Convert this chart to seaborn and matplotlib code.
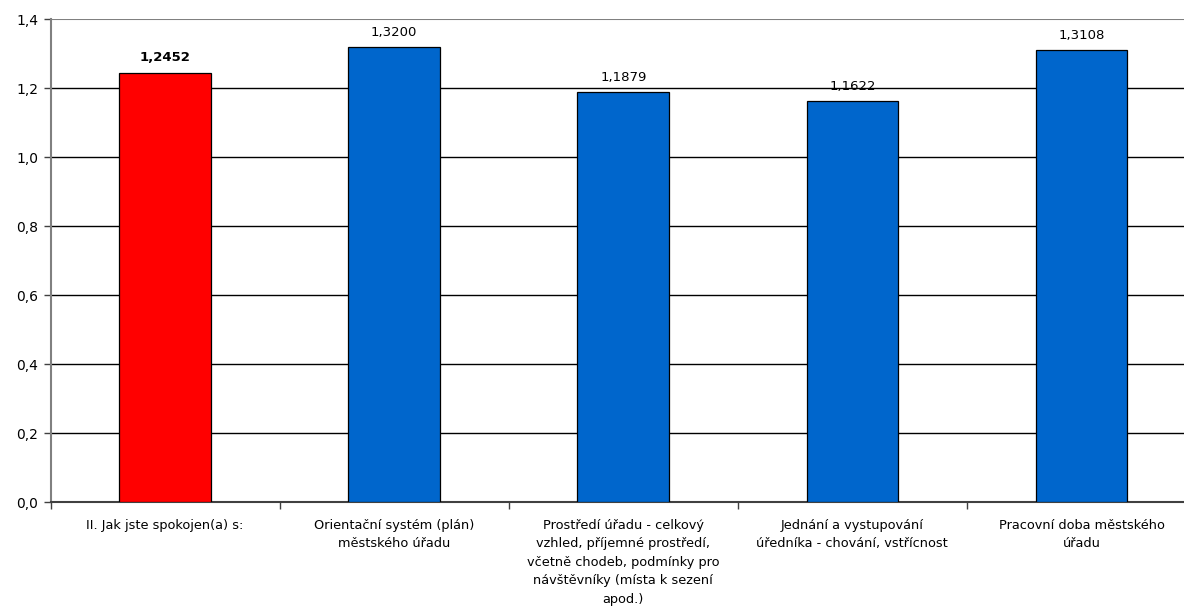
import matplotlib
matplotlib.use("Agg")
import matplotlib.pyplot as plt
import seaborn as sns
import pandas as pd

categories = [
    "II. Jak jste spokojen(a) s:",
    "Orientační systém (plán)\nměstského úřadu",
    "Prostředí úřadu - celkový\nvzhled, příjemné prostředí,\nvčetně chodeb, podmínky pro\nnávštěvníky (místa k sezení\napod.)",
    "Jednání a vystupování\núředníka - chování, vstřícnost",
    "Pracovní doba městského\núřadu",
]
values = [1.2452, 1.3200, 1.1879, 1.1622, 1.3108]
bar_colors = ["#FF0000", "#0066CC", "#0066CC", "#0066CC", "#0066CC"]
yticks = [0.0, 0.2, 0.4, 0.6, 0.8, 1.0, 1.2, 1.4]

sns.set_style("white")
plt.rcParams["font.family"] = ["DejaVu Sans"]
plt.rcParams["text.color"] = "black"
plt.rcParams["xtick.color"] = "black"
plt.rcParams["ytick.color"] = "black"

df = pd.DataFrame({"cat": categories, "val": values})

W, H = 1184, 613
fig = plt.figure(figsize=(W / 100, H / 100), dpi=100)
left, right, top, bottom = 50.5, 1196, 19.3, 502
ax = fig.add_axes([left / W, 1 - bottom / H, (right - left) / W, (bottom - top) / H])

sns.barplot(data=df, x="cat", y="val", hue="cat", palette=bar_colors,
            saturation=1, width=0.4, edgecolor="black", linewidth=0.9,
            legend=False, ax=ax, zorder=3)

ax.set_xlim(-0.5, len(categories) - 0.5)
ax.set_ylim(0, 1.4)
ax.set_yticks(yticks)
ax.set_yticklabels([f"{t:.1f}".replace(".", ",") for t in yticks], fontsize=10)
for t in yticks[1:-1]:
    ax.axhline(t, color="black", linewidth=1.0, zorder=1)
ax.axhline(1.4, color="#808080", linewidth=1.5, zorder=1)

ax.set_xticks([i - 0.5 for i in range(len(categories) + 1)])
ax.set_xticklabels([])
ax.tick_params(axis="x", direction="out", length=5, width=1, color="#404040", bottom=True)
ax.tick_params(axis="y", direction="out", length=5, width=1, color="#404040", left=True, pad=4)

for i, c in enumerate(categories):
    ax.annotate(c, xy=(i, 0), xycoords=("data", "axes fraction"),
                xytext=(0, -12), textcoords="offset points",
                ha="center", va="top", fontsize=9.3, linespacing=1.55)

for i, v in enumerate(values):
    ax.annotate(f"{v:.4f}".replace(".", ","), xy=(i, v), xytext=(0, 6),
                textcoords="offset points", ha="center", va="bottom",
                fontsize=9.5, fontweight="bold" if i == 0 else "normal")

for s in ["top", "right"]:
    ax.spines[s].set_visible(False)
ax.spines["left"].set_color("#808080")
ax.spines["left"].set_linewidth(1.5)
ax.spines["bottom"].set_color("#404040")
ax.spines["bottom"].set_linewidth(1.5)
ax.set_xlabel("")
ax.set_ylabel("")

fig.savefig("out.png", dpi=100)
